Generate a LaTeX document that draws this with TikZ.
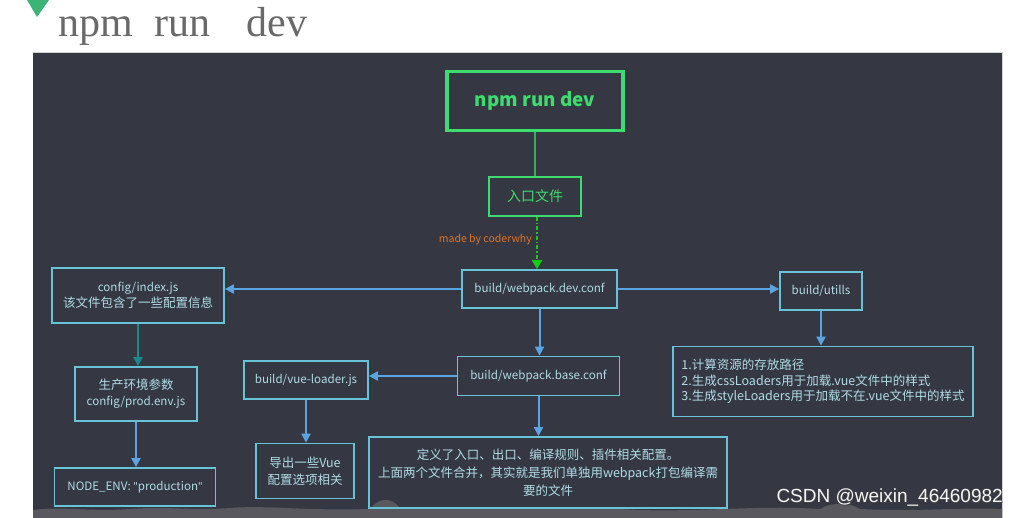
\documentclass[tikz,border=0pt]{standalone}
\usepackage{fontspec}
\setmainfont{Noto Sans CJK SC}
\newfontfamily\titlefont{Liberation Serif}
\newfontfamily\wmfont{Liberation Sans}
\newfontfamily\latfont{Noto Sans}
\usetikzlibrary{arrows.meta}
\definecolor{bg}{RGB}{53,56,66}
\definecolor{boxcol}{RGB}{105,195,215}
\definecolor{txtcol}{RGB}{175,220,230}
\definecolor{arrcol}{RGB}{90,165,225}
\definecolor{teal2}{RGB}{20,140,140}
\definecolor{grn}{RGB}{60,220,110}
\definecolor{grnline}{RGB}{60,170,95}
\definecolor{dashgrn}{RGB}{20,205,20}
\definecolor{orng}{RGB}{220,115,45}
\definecolor{tri}{RGB}{60,180,120}
\definecolor{titlegray}{RGB}{105,105,105}
\definecolor{strip}{RGB}{88,88,94}
\tikzset{
  bx/.style={draw=boxcol, line width=1.8pt, rectangle, inner sep=0pt, text=txtcol,
    font=\fontsize{12.5}{16}\selectfont, align=center},
  lbx/.style={bx, font=\fontsize{11.6}{16}\selectfont},
  gbx/.style={draw=grn, line width=3.2pt, rectangle, inner sep=0pt, text=grn},
  arr/.style={draw=arrcol, line width=2pt, -{Triangle[length=9pt,width=9pt]}},
}
\begin{document}
\begin{tikzpicture}[x=1pt,y=-1pt]
\useasboundingbox (0,0) rectangle (1019,518);
\fill[white] (0,0) rectangle (1019,518);
% title
\fill[tri] (27,0) -- (49,0) -- (37,17) -- cycle;
\node[anchor=base west, inner sep=0pt, text=titlegray, font=\titlefont\fontsize{42}{42}\selectfont] (title) at (58,37) {npm\hspace{22pt}run\hspace{36pt}dev};
% panel
\fill[bg] (33,52) rectangle (1002,518);
\draw[gray!35, line width=1pt] (33,52.5) -- (1002,52.5) -- (1002,518);
\fill[strip] (33,518) -- (33,510) .. controls (60,506) and (90,512) .. (130,509)
  .. controls (170,506) and (190,511) .. (230,508) .. controls (270,505) and (300,511) .. (370,509)
  .. controls (380,496) and (392,498) .. (400,508) .. controls (430,511) and (520,504) .. (640,510)
  .. controls (700,512) and (760,505) .. (820,509) .. controls (830,502) and (850,502) .. (860,509)
  .. controls (920,512) and (960,507) .. (1002,509) -- (1002,518) -- cycle;
% nodes
\node[gbx, minimum width=176pt, minimum height=59pt, font=\bfseries\fontsize{18.8}{20}\selectfont] (npm) at (535,101) {npm run dev};
\node[gbx, line width=2pt, minimum width=92pt, minimum height=39pt, font=\fontsize{14}{14}\selectfont] (entry) at (535,196.5) {入口文件};
\node[lbx, minimum width=155pt, minimum height=38pt] (dev) at (539.5,289) {build/webpack.dev.conf};
\node[bx, minimum width=172pt, minimum height=55pt] (cfg) at (138,295.5) {{\fontsize{11.6}{16}\selectfont config/index.js}\\该文件包含了一些配置信息};
\node[bx, minimum width=122pt, minimum height=54pt] (prod) at (136,394) {生产环境参数\\{\fontsize{11.6}{16}\selectfont config/prod.env.js}};
\node[lbx, minimum width=161pt, minimum height=38pt] (nenv) at (135,487) {NODE\_ENV: {\latfont\fontsize{11}{16}\selectfont "}production{\latfont\fontsize{11}{16}\selectfont "}};
\node[lbx, minimum width=82pt, minimum height=38pt] (utils) at (821,291) {build/utills};
\node[bx, minimum width=300pt, minimum height=70pt, align=left, font=\fontsize{12.5}{15.5}\selectfont] (ulist) at (823,381.5) {1.计算资源的存放路径\\2.生成cssLoaders用于加载.vue文件中的样式\\3.生成styleLoaders用于加载不在.vue文件中的样式};
\node[lbx, minimum width=162pt, minimum height=39pt] (base) at (538.5,376) {build/webpack.base.conf};
\node[lbx, minimum width=124pt, minimum height=38pt] (vl) at (306,380) {build/vue-loader.js};
\node[bx, minimum width=98pt, minimum height=55pt, font=\fontsize{12.5}{17}\selectfont] (vue) at (305,471) {导出一些Vue\\配置选项相关};
\node[bx, minimum width=358pt, minimum height=71pt, font=\fontsize{12.5}{18}\selectfont] (big) at (548,472.5) {定义了入口、出口、编译规则、插件相关配置。\\上面两个文件合并，其实就是我们单独用webpack打包编译需\\要的文件};
\node[anchor=east, inner sep=0pt, text=orng, font=\fontsize{10.5}{10.5}\selectfont] (lbl) at (532,240) {made by coderwhy};
% connectors
\draw[grnline, line width=1.5pt] (npm.south) -- (entry.north);
\draw[dashgrn, line width=2.2pt, dash pattern=on 4pt off 2pt on 1.5pt off 2pt, -{Triangle[length=9pt,width=10pt]}] ([xshift=2pt]entry.south) -- ([xshift=2pt]entry.south |- dev.north);
\draw[arr] (dev.west) -- (dev.west -| cfg.east);
\draw[arr] (dev.east) -- (dev.east -| utils.west);
\draw[arr] (dev.south) -- (dev.south |- base.north);
\draw[arr] (base.west) -- (base.west -| vl.east);
\draw[arr] (base.south) -- (base.south |- big.north);
\draw[arr] (vl.south) -- (vl.south |- vue.north);
\draw[arr, draw=teal2] (cfg.south) -- (cfg.south |- prod.north);
\draw[arr] (prod.south) -- (prod.south |- nenv.north);
\draw[arr] (utils.south) -- (utils.south |- ulist.north);
% watermark
\node[anchor=east, inner sep=0pt, text=gray!50!black, font=\wmfont\fontsize{19}{19}\selectfont] (wms) at (1003.8,498.8) {CSDN @weixin\_46460982};
\node[anchor=east, inner sep=0pt, text=white!92!gray, font=\wmfont\fontsize{19}{19}\selectfont] (wm) at (1003,498) {CSDN @weixin\_46460982};
\end{tikzpicture}
\end{document}
